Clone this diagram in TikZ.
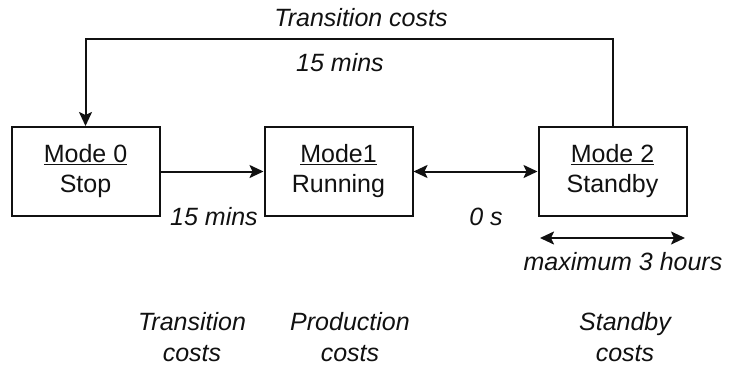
\documentclass[tikz,border=0pt]{standalone}
\usepackage{fontspec}
\setmainfont{Liberation Sans}
\usetikzlibrary{arrows.meta}
\definecolor{ink}{HTML}{111111}
\tikzset{
  modebox/.style={draw=ink, line width=2pt, minimum width=148pt, minimum height=89pt, inner sep=0pt, align=center, font=\fontsize{25}{30}\selectfont, text=ink},
  conn/.style={draw=ink, line width=2pt, -{Stealth[length=14pt,width=13pt,inset=3pt]}},
  dconn/.style={draw=ink, line width=2pt, {Stealth[length=14pt,width=13pt,inset=3pt]}-{Stealth[length=14pt,width=13pt,inset=3pt]}},
  lbl/.style={font=\fontsize{25}{31}\selectfont\itshape, text=ink, align=center, inner sep=0pt}
}
\begin{document}
\begin{tikzpicture}[x=1pt,y=-1pt]
\useasboundingbox (0,0) rectangle (733,370);
\node[modebox] (m0) at (85.5,171.5) {\underline{Mode 0}\\Stop};
\node[modebox] (m1) at (338.5,171.5) {\underline{Mode1}\\Running};
\node[modebox] (m2) at (612.5,171.5) {\underline{Mode 2}\\Standby};
\coordinate (top) at (0,39);
\coordinate (ha) at (540,238);
\coordinate (hb) at (685,238);
\draw[conn] (m0.east) -- (m1.west);
\draw[dconn] (m1.east) -- (m2.west);
\draw[conn] (m2.north) -- (m2.north |- top) -| (m0.north);
\draw[dconn] (ha) -- (hb);
\node[lbl] (tc) at (361,18) {Transition costs};
\node[lbl] (t15) at (340,63) {15 mins};
\node[lbl] (a15) at (214,217) {15 mins};
\node[lbl] (zs) at (486,217) {0 s};
\node[lbl] (mx) at (623,262) {maximum 3 hours};
\node[lbl] (bt) at (192,337) {Transition\\costs};
\node[lbl] (bp) at (350,337) {Production\\costs};
\node[lbl] (bs) at (625,337) {Standby\\costs};
\end{tikzpicture}
\end{document}
